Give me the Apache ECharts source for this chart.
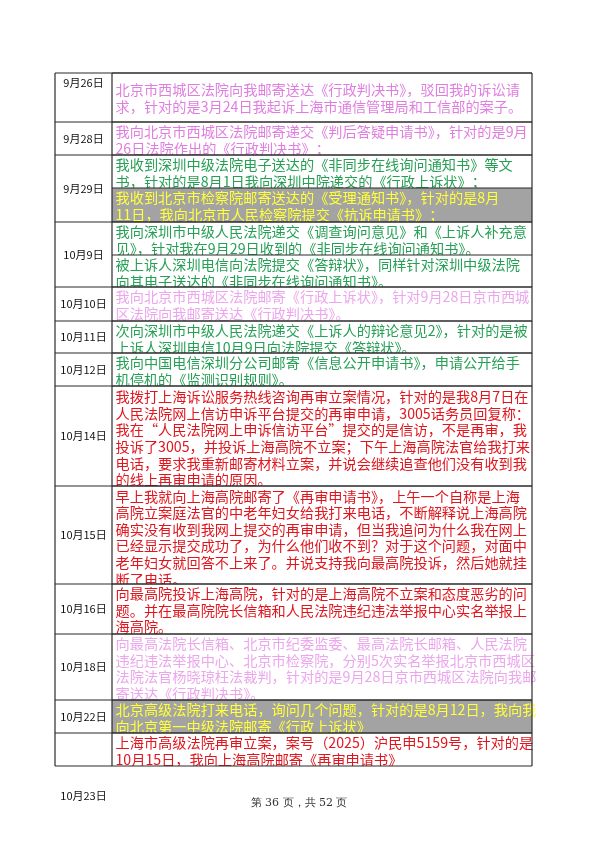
<!DOCTYPE html>
<html><head><meta charset="utf-8">
<script src="https://cdn.jsdelivr.net/npm/echarts@6/dist/echarts.min.js"></script>
<style>html,body{margin:0;padding:0;background:#fff}#c{width:599px;height:848px}</style>
</head><body><div id="c"></div>
<script>
const dates = ["9月26日","9月28日","9月29日","10月9日","10月10日","10月11日","10月12日","10月14日","10月15日","10月16日","10月18日","10月22日","10月23日"];
const rowBounds = [73,122,155,222,287,321,353,386,486,584,634,700,733,766];
// sub-cells: [rowIndex, top, bottom, style, padTop, lines]
const cells = [
 [0,73,122,"pink",8.6,["北京市西城区法院向我邮寄送达《行政判决书》，驳回我的诉讼请","求，针对的是3月24日我起诉上海市通信管理局和工信部的案子。"]],
 [1,122,155,"pink",1.6,["我向北京市西城区法院邮寄递交《判后答疑申请书》，针对的是9月","26日法院作出的《行政判决书》；"]],
 [2,155,188,"green",1.6,["我收到深圳中级法院电子送达的《非同步在线询问通知书》等文","书，针对的是8月1日我向深圳中院递交的《行政上诉状》；"]],
 [2,188,222,"gray",1.6,["我收到北京市检察院邮寄送达的《受理通知书》，针对的是8月","11日，我向北京市人民检察院提交《抗诉申请书》；"]],
 [3,222,255,"green",1.6,["我向深圳市中级人民法院递交《调查询问意见》和《上诉人补充意","见》，针对我在9月29日收到的《非同步在线询问通知书》。"]],
 [3,255,287,"green",1.6,["被上诉人深圳电信向法院提交《答辩状》，同样针对深圳中级法院","向其电子送达的《非同步在线询问通知书》。"]],
 [4,287,321,"lpink",1.6,["我向北京市西城区法院邮寄《行政上诉状》，针对9月28日京市西城","区法院向我邮寄送达《行政判决书》。"]],
 [5,321,353,"green",1.6,["次向深圳市中级人民法院递交《上诉人的辩论意见2》，针对的是被","上诉人深圳电信10月9日向法院提交《答辩状》。"]],
 [6,353,386,"green",1.6,["我向中国电信深圳分公司邮寄《信息公开申请书》，申请公开给手","机停机的《监测识别规则》。"]],
 [7,386,486,"red",2.6,["我拨打上海诉讼服务热线咨询再审立案情况，针对的是我8月7日在","人民法院网上信访申诉平台提交的再审申请，3005话务员回复称：","我在“人民法院网上申诉信访平台”提交的是信访，不是再审，我","投诉了3005，并投诉上海高院不立案；下午上海高院法官给我打来","电话，要求我重新邮寄材料立案，并说会继续追查他们没有收到我","的线上再审申请的原因。"]],
 [8,486,584,"red",2.0,["早上我就向上海高院邮寄了《再审申请书》，上午一个自称是上海","高院立案庭法官的中老年妇女给我打来电话，不断解释说上海高院","确实没有收到我网上提交的再审申请，但当我追问为什么我在网上","已经显示提交成功了，为什么他们收不到？对于这个问题，对面中","老年妇女就回答不上来了。并说支持我向最高院投诉，然后她就挂","断了电话。"]],
 [9,584,634,"red",1.6,["向最高院投诉上海高院，针对的是上海高院不立案和态度恶劣的问","题。并在最高院院长信箱和人民法院违纪违法举报中心实名举报上","海高院。"]],
 [10,634,700,"lpink",1.6,["向最高法院长信箱、北京市纪委监委、最高法院长邮箱、人民法院","违纪违法举报中心、北京市检察院，分别5次实名举报北京市西城区","法院法官杨晓琼枉法裁判，针对的是9月28日京市西城区法院向我邮","寄送达《行政判决书》。"]],
 [11,700,733,"gray",1.6,["北京高级法院打来电话，询问几个问题，针对的是8月12日，我向我","向北京第一中级法院邮寄《行政上诉状》"]],
 [12,733,766,"red",1.6,["上海市高级法院再审立案，案号（2025）沪民申5159号，针对的是","10月15日，我向上海高院邮寄《再审申请书》"]]
];
const dateOffset = [10, null, null, null, null, null, null, null, null, null, null, null, 63]; // px from row top, null = centered
const footerText = "第 36 页，共 52 页";

const styles = {
  pink:{c:"#e07ee0",bg:"#fff"}, lpink:{c:"#eca6ec",bg:"#fff"},
  green:{c:"#26a055",bg:"#fff"}, red:{c:"#e0161e",bg:"#fff"},
  gray:{c:"#ffff3a",bg:"#a3a3a3"}
};
const X0=55, X1=112, X2=532, LH=16.6, FS=14.2;
const els=[];
cells.forEach(c=>{
  const [ri,t,b,st,pad,lines]=c;
  els.push({type:'rect',shape:{x:X1,y:t,width:X2-X1,height:b-t},style:{fill:styles[st].bg}});
  els.push({type:'text',x:X1+3.5,y:t+pad,style:{text:lines.join("\n"),fill:styles[st].c,font:FS+'px "Noto Sans CJK SC"',lineHeight:LH,verticalAlign:'top',textAlign:'left'}});
});
// cover overflow below table
els.push({type:'rect',shape:{x:0,y:766,width:599,height:82},style:{fill:'#fff'}});
// date cells
dates.forEach((d,i)=>{
  const t=rowBounds[i], b=rowBounds[i+1];
  const y = dateOffset[i]==null ? (t+b)/2 : t+dateOffset[i];
  els.push({type:'text',x:(X0+X1)/2,y:y,style:{text:d,fill:'#111',font:'11px "Noto Sans CJK SC"',textAlign:'center',verticalAlign:'middle'}});
});
els.push({type:'rect',shape:{x:0,y:766,width:599,height:10},style:{fill:'#fff'}});
// grid lines
const L=[];
rowBounds.forEach(y=>L.push([X0,y,X2,y]));
cells.forEach(c=>{L.push([X1,c[1],X2,c[1]]);});
L.push([X0,73,X0,766],[X1,73,X1,766],[X2,73,X2,766]);
L.forEach(l=>els.push({type:'line',shape:{x1:l[0],y1:l[1],x2:l[2],y2:l[3]},style:{stroke:'#2a2a2a',lineWidth:1.2}}));
els.push({type:'text',x:299,y:803,style:{text:footerText,fill:'#333',font:'11px "DejaVu Serif", serif',textAlign:'center',verticalAlign:'middle'}});
const chart=echarts.init(document.getElementById('c'),null,{renderer:'canvas'});
chart.setOption({animation:false,graphic:{elements:els}});
</script></body></html>
